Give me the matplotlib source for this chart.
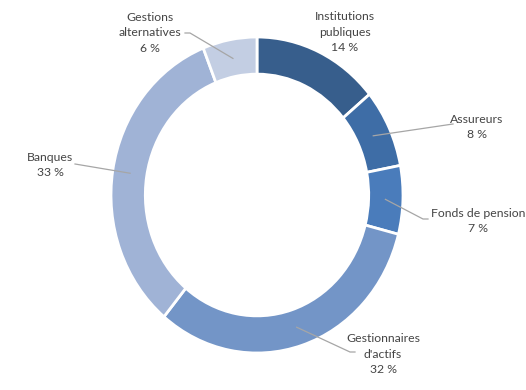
import numpy as np
import matplotlib
matplotlib.use("Agg")
import matplotlib.pyplot as plt

# data
labels = ["Institutions\npubliques", "Assureurs", "Fonds de pension",
          "Gestionnaires\nd'actifs", "Banques", "Gestions\nalternatives"]
shares = [14, 8, 7, 32, 33, 6]
colors = ["#375e8c", "#3e6da6", "#4a7cbb", "#7395c7", "#a0b3d6", "#c3cee3"]

# label layout in pixels: text centre, and leader elbow points (None = no leader)
W, H = 526, 390
cx, cy, rx, ry = 257, 195, 146, 158
text_px = [(345, 32), (477, 127), (478, 221), (383, 354), (50, 165), (150, 33)]
elbow_px = [None, [(453, 124)], [(428, 219), (423, 219)], [(355, 352), (350, 352)],
            [(75, 164)], [(185, 33), (190, 33)]]

plt.rcParams["font.family"] = ["Lato", "DejaVu Sans"]

fig = plt.figure(figsize=(W / 100, H / 100), dpi=100)
ax = fig.add_axes([(cx - rx) / W, (H - cy - ry) / H, 2 * rx / W, 2 * ry / H])

wedges, _ = ax.pie(shares, colors=colors, startangle=90, counterclock=False,
                   radius=1, wedgeprops=dict(width=0.235, edgecolor="white", linewidth=2))
ax.set_aspect("auto")
ax.set_xlim(-1, 1)
ax.set_ylim(-1, 1)
ax.axis("off")


def to_data(p):
    return ((p[0] - cx) / rx, (cy - p[1]) / ry)


for w, lab, val, tp, el in zip(wedges, labels, shares, text_px, elbow_px):
    mid = np.deg2rad((w.theta1 + w.theta2) / 2)
    ring = (0.88 * np.cos(mid), 0.88 * np.sin(mid))
    tx, ty = to_data(tp)
    ax.text(tx, ty, f"{lab}\n{val} %", ha="center", va="center", fontsize=8.8,
            color="#454545", linespacing=1.5, clip_on=False)
    if el:
        pts = [to_data(p) for p in el] + [ring]
        xs, ys = zip(*pts)
        ax.plot(xs, ys, color="#a6a6a6", lw=0.9, clip_on=False)

fig.savefig("out.png", dpi=100)
